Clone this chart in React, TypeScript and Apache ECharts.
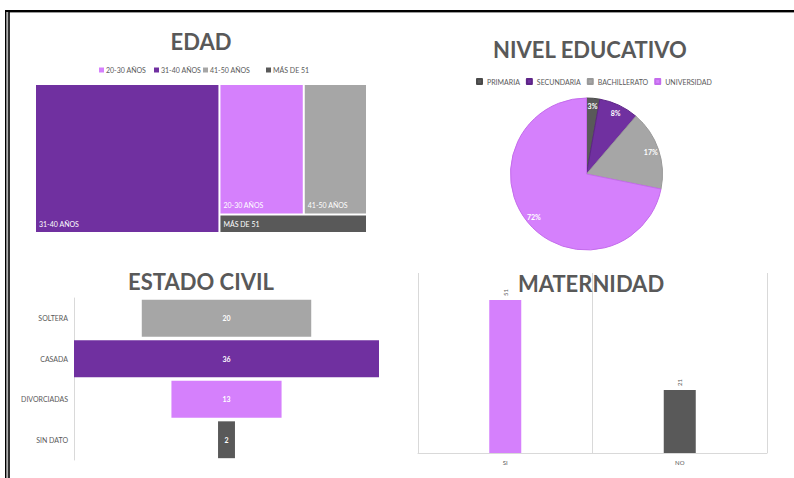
import React, { useEffect, useRef } from 'react';
import * as echarts from 'echarts';

// ---- data ----
const ageCategories = ['31-40 AÑOS', '20-30 AÑOS', '41-50 AÑOS', 'MÁS DE 51'];
const ageValues = [40, 16, 12, 4];
const ageLegendOrder = ['20-30 AÑOS', '31-40 AÑOS', '41-50 AÑOS', 'MÁS DE 51'];

const eduCategories = ['PRIMARIA', 'SECUNDARIA', 'BACHILLERATO', 'UNIVERSIDAD'];
const eduValues = [2, 6, 12, 51];

const civilCategories = ['SOLTERA', 'CASADA', 'DIVORCIADAS', 'SIN DATO'];
const civilValues = [20, 36, 13, 2];

const maternityCategories = ['SI', 'NO'];
const maternityValues = [51, 21];

// ---- styles ----
const PURPLE = '#7030a0';
const LILAC = '#d580fc';
const GRAY = '#a6a6a6';
const DARK = '#595959';
const TXT = '#595959';
const FONT = 'Lato';

const ageColors: Record<string, string> = {
  '31-40 AÑOS': PURPLE,
  '20-30 AÑOS': LILAC,
  '41-50 AÑOS': GRAY,
  'MÁS DE 51': DARK,
};
const eduColors = [DARK, PURPLE, GRAY, LILAC];
const eduBorders = ['#4a4a4a', '#5e2588', '#999999', '#c46cec'];
const civilColors = [GRAY, PURPLE, LILAC, DARK];
const maternityColors = [LILAC, DARK];

const ageLegendX = [99, 154, 203, 266];

export default function App() {
  const ref = useRef<HTMLDivElement>(null);

  useEffect(() => {
    if (!ref.current) return;
    const chart = echarts.init(ref.current, null, { renderer: 'svg' });
    const civilMax = Math.max(...civilValues);

    const titles = [
      { text: 'EDAD', x: 201, y: 41 },
      { text: 'NIVEL EDUCATIVO', x: 590, y: 49 },
      { text: 'ESTADO CIVIL', x: 201, y: 281 },
      { text: 'MATERNIDAD', x: 591, y: 283 },
    ].map((t) => ({
      type: 'text',
      x: t.x,
      y: t.y,
      z: 100,
      style: {
        text: t.text,
        fill: TXT,
        fontSize: 22,
        fontWeight: 'bold',
        fontFamily: FONT,
        align: 'center',
        verticalAlign: 'middle',
      },
    }));

    const ageLegend: any[] = [];
    ageLegendOrder.forEach((name, i) => {
      ageLegend.push({
        type: 'rect',
        z: 100,
        shape: { x: ageLegendX[i], y: 67.5, width: 5, height: 5 },
        style: { fill: ageColors[name] },
      });
      ageLegend.push({
        type: 'text',
        z: 100,
        x: ageLegendX[i] + 7,
        y: 70,
        style: {
          text: name,
          fill: TXT,
          fontSize: 7,
          fontFamily: FONT,
          align: 'left',
          verticalAlign: 'middle',
        },
      });
    });

    const frame = [
      { type: 'rect', z: 100, shape: { x: 5, y: 10, width: 789, height: 2 }, style: { fill: '#000' } },
      { type: 'rect', z: 100, shape: { x: 9, y: 12, width: 785, height: 1 }, style: { fill: '#9a9a9a' } },
      { type: 'rect', z: 100, shape: { x: 5, y: 10, width: 1.6, height: 468 }, style: { fill: '#000' } },
      { type: 'rect', z: 100, shape: { x: 6.6, y: 12, width: 1.6, height: 466 }, style: { fill: '#b0b0b0' } },
      { type: 'rect', z: 100, shape: { x: 8.2, y: 12, width: 1.6, height: 466 }, style: { fill: '#000' } },
    ];

    const option: any = {
      animation: false,
      backgroundColor: '#fff',
      textStyle: { fontFamily: FONT },
      legend: {
        data: eduCategories,
        left: 476,
        top: 78,
        itemWidth: 5,
        itemHeight: 5,
        itemGap: 6,
        icon: 'rect',
        padding: 0,
        textStyle: { fontSize: 7, color: TXT, fontFamily: FONT },
        selectedMode: false,
      },
      grid: [
        { left: 74, top: 298, width: 305, height: 162, containLabel: false },
        { left: 418, top: 273, width: 349, height: 180, containLabel: false },
      ],
      xAxis: [
        { type: 'value', gridIndex: 0, min: 0, max: civilMax, show: false },
        {
          type: 'category',
          gridIndex: 1,
          data: maternityCategories,
          axisLine: { lineStyle: { color: '#d9d9d9' } },
          axisTick: { show: false },
          axisLabel: { fontSize: 6, color: TXT, margin: 6, fontFamily: FONT },
          splitLine: { show: true, lineStyle: { color: '#d9d9d9' } },
        },
      ],
      yAxis: [
        {
          type: 'category',
          gridIndex: 0,
          data: civilCategories,
          inverse: true,
          axisLine: { show: true, lineStyle: { color: '#d9d9d9' } },
          axisTick: { show: false },
          axisLabel: { fontSize: 7, color: TXT, margin: 6, fontFamily: FONT },
          splitLine: { show: false },
        },
        { type: 'value', gridIndex: 1, min: 0, max: 60, show: false },
      ],
      graphic: [...frame, ...titles, ...ageLegend],
      series: [
        {
          type: 'treemap',
          left: 36,
          top: 85,
          width: 330,
          height: 147,
          roam: false,
          nodeClick: false,
          breadcrumb: { show: false },
          sort: 'desc',
          silent: true,
          levels: [{ itemStyle: { gapWidth: 2, borderWidth: 0 } }],
          label: {
            show: true,
            position: 'insideBottomLeft',
            distance: 0,
            padding: [2, 3, 4, 3],
            lineHeight: 8,
            fontSize: 7,
            color: '#fff',
            fontFamily: FONT,
            formatter: '{b}',
          },
          upperLabel: { show: false },
          data: ageCategories.map((n, i) => ({
            name: n,
            value: ageValues[i],
            itemStyle: { color: ageColors[n] },
          })),
        },
        {
          type: 'pie',
          center: [586.5, 174],
          radius: [0, 76],
          startAngle: 90,
          clockwise: true,
          silent: true,
          label: { show: false },
          labelLine: { show: false },
          data: eduCategories.map((n, i) => ({
            name: n,
            value: eduValues[i],
            itemStyle: { color: eduColors[i], borderColor: eduBorders[i], borderWidth: 1 },
          })),
        },
        {
          type: 'pie',
          center: [586.5, 174],
          radius: [54, 76],
          startAngle: 90,
          clockwise: true,
          silent: true,
          itemStyle: { color: 'rgba(0,0,0,0)' },
          label: {
            show: true,
            position: 'inside',
            fontSize: 7,
            fontWeight: 'bold',
            color: '#fff',
            fontFamily: FONT,
            formatter: (p: any) => Math.round(p.percent) + '%',
          },
          labelLine: { show: false },
          data: eduCategories.map((n, i) => ({ name: n, value: eduValues[i] })),
        },
        {
          type: 'bar',
          xAxisIndex: 0,
          yAxisIndex: 0,
          stack: 'civil',
          silent: true,
          barCategoryGap: '9%',
          itemStyle: { color: 'rgba(0,0,0,0)' },
          data: civilValues.map((v) => (civilMax - v) / 2),
        },
        {
          type: 'bar',
          xAxisIndex: 0,
          yAxisIndex: 0,
          stack: 'civil',
          silent: true,
          barCategoryGap: '9%',
          label: {
            show: true,
            position: 'inside',
            fontSize: 7,
            fontWeight: 'bold',
            color: '#fff',
            fontFamily: FONT,
          },
          data: civilValues.map((v, i) => ({ value: v, itemStyle: { color: civilColors[i] } })),
        },
        {
          type: 'bar',
          xAxisIndex: 1,
          yAxisIndex: 1,
          barWidth: 32,
          silent: true,
          label: {
            show: true,
            position: 'top',
            rotate: 90,
            align: 'left',
            verticalAlign: 'middle',
            distance: 4,
            fontSize: 6,
            color: TXT,
            fontFamily: FONT,
          },
          data: maternityValues.map((v, i) => ({ value: v, itemStyle: { color: maternityColors[i] } })),
        },
      ],
    };

    chart.setOption(option);
    return () => chart.dispose();
  }, []);

  return (
    <div
      ref={ref}
      style={{ position: 'absolute', left: 0, top: 0, width: 794, height: 478, background: '#fff' }}
    />
  );
}
